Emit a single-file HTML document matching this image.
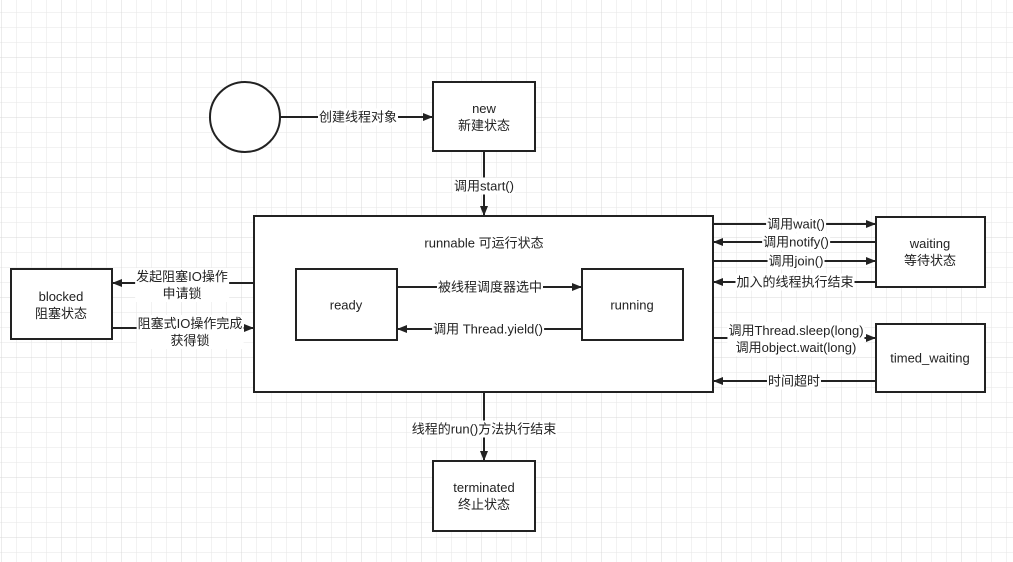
<!DOCTYPE html>
<html><head><meta charset="utf-8"><style>
body{margin:0;width:1013px;height:562px;overflow:hidden;background:#fff;font-family:"Liberation Sans","Noto Sans CJK SC",sans-serif;}
.l{position:absolute;font-size:13px;color:#222;background:#fff;transform:translate(-50%,-50%);white-space:nowrap;line-height:17px;text-align:center;padding:0 1px}
</style></head><body>
<svg width="1013" height="562" style="position:absolute;left:0;top:0">
<defs>
<pattern id="g" x="1" y="12" width="15" height="15" patternUnits="userSpaceOnUse"><path d="M0 0H15M0 0V15" stroke="#e6e6e6" stroke-width="1" fill="none"/></pattern>
<pattern id="G" x="1" y="-3" width="60" height="60" patternUnits="userSpaceOnUse"><path d="M0 0H60M0 0V60" stroke="#d8d8d8" stroke-width="1" fill="none"/></pattern>
<marker id="a" markerWidth="10" markerHeight="8" refX="10" refY="4" orient="auto" markerUnits="userSpaceOnUse"><path d="M0 0L10 4L0 8Z" fill="#222"/></marker>
</defs>
<rect width="1013" height="562" fill="url(#g)"/>
<rect width="1013" height="562" fill="url(#G)"/>
<g stroke="#222" stroke-width="2" fill="#fff">
<circle cx="245" cy="117" r="35"/>
<rect x="433" y="82" width="102" height="69"/>
<rect x="254" y="216" width="459" height="176"/>
<rect x="296" y="269" width="101" height="71"/>
<rect x="582" y="269" width="101" height="71"/>
<rect x="11" y="269" width="101" height="70"/>
<rect x="876" y="217" width="109" height="70"/>
<rect x="876" y="324" width="109" height="68"/>
<rect x="433" y="461" width="102" height="70"/>
</g>
<g stroke="#222" stroke-width="2" fill="none" marker-end="url(#a)">
<path d="M280 117H433"/>
<path d="M484 151V216"/>
<path d="M484 392V461"/>
<path d="M397 287H582"/>
<path d="M582 329H397"/>
<path d="M254 283H112"/>
<path d="M112 328H254"/>
<path d="M713 224H876"/>
<path d="M876 242H713"/>
<path d="M713 261H876"/>
<path d="M876 282H713"/>
<path d="M713 338H876"/>
<path d="M876 381H713"/>
</g>
</svg>
<div class="l" style="left:358px;top:117px">创建线程对象</div>
<div class="l" style="left:484px;top:117px;background:none">new<br>新建状态</div>
<div class="l" style="left:484px;top:186px">调用start()</div>
<div class="l" style="left:484px;top:243px;background:none">runnable 可运行状态</div>
<div class="l" style="left:346px;top:305px;background:none">ready</div>
<div class="l" style="left:632px;top:305px;background:none">running</div>
<div class="l" style="left:490px;top:287px">被线程调度器选中</div>
<div class="l" style="left:488px;top:329px">调用 Thread.yield()</div>
<div class="l" style="left:61px;top:305px;background:none">blocked<br>阻塞状态</div>
<div class="l" style="left:182px;top:285px">发起阻塞IO操作<br>申请锁</div>
<div class="l" style="left:190px;top:332px">阻塞式IO操作完成<br>获得锁</div>
<div class="l" style="left:930px;top:252px;background:none">waiting<br>等待状态</div>
<div class="l" style="left:930px;top:358px;background:none">timed_waiting</div>
<div class="l" style="left:796px;top:224px">调用wait()</div>
<div class="l" style="left:796px;top:242px">调用notify()</div>
<div class="l" style="left:796px;top:261px">调用join()</div>
<div class="l" style="left:795px;top:282px">加入的线程执行结束</div>
<div class="l" style="left:796px;top:339px">调用Thread.sleep(long)<br>调用object.wait(long)</div>
<div class="l" style="left:794px;top:381px">时间超时</div>
<div class="l" style="left:484px;top:429px">线程的run()方法执行结束</div>
<div class="l" style="left:484px;top:496px;background:none">terminated<br>终止状态</div>
</body></html>
